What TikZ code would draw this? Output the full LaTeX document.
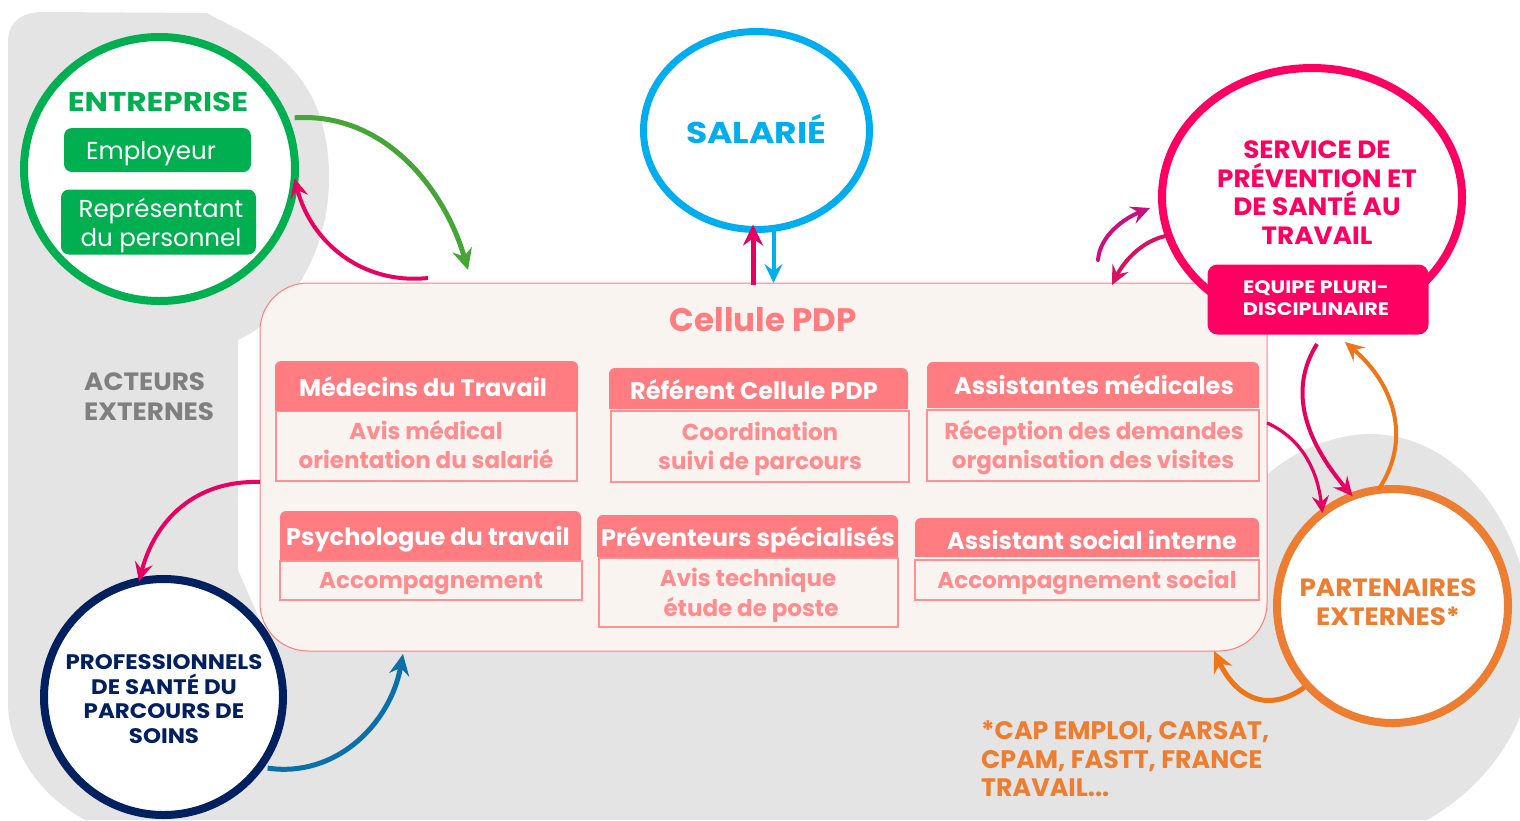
\documentclass[tikz,border=0pt]{standalone}
\usepackage{fontspec}
\setmainfont{Poppins}
\newfontfamily\capa[FakeStretch=1.05]{Poppins}
\newfontfamily\capb[FakeStretch=1.09]{Poppins}
\newfontfamily\capc[FakeStretch=1.15]{Poppins}
\usetikzlibrary{shapes.geometric,arrows.meta,calc}
\definecolor{gbg}{HTML}{E4E4E4}
\definecolor{cgreen}{HTML}{00B050}
\definecolor{cblue}{HTML}{00AEEF}
\definecolor{cpink}{HTML}{FF0062}
\definecolor{cnavy}{HTML}{002060}
\definecolor{corange}{HTML}{ED7D31}
\definecolor{ccoral}{HTML}{FF7C80}
\definecolor{cbodytxt}{HTML}{FF8C8F}
\definecolor{ccream}{HTML}{F9F4F0}
\definecolor{agreen}{HTML}{46A536}
\definecolor{apink}{HTML}{E6005F}
\definecolor{amag}{HTML}{C9107F}
\definecolor{adark}{HTML}{D6125F}
\definecolor{aorange}{HTML}{EE7518}
\definecolor{ablue}{HTML}{0B6FA8}
\definecolor{agrey}{HTML}{7F7F7F}
\newcommand{\fs}[1]{\fontsize{#1}{#1}\selectfont}
\tikzset{
  actor/.style={ellipse,draw,line width=8pt,fill=white,inner sep=0pt,outer sep=0pt},
  headbox/.style={fill=ccoral,draw=none,inner sep=0pt,rounded corners=6pt},
  bodybox/.style={draw=ccoral!85,line width=1.3pt,fill=ccream,inner sep=0pt},
  greenbox/.style={fill=cgreen,rounded corners=8pt,inner sep=0pt},
  txt/.style={inner sep=0pt,anchor=base},
  headtxt/.style={txt,text=white,font=\fs{24}\bfseries},
  bodytxt/.style={txt,text=cbodytxt,font=\fs{23}\bfseries},
  greentxt/.style={txt,text=white,font=\fs{24.5}},
  pinktxt/.style={txt,text=cpink,font=\capa\fs{25}\bfseries},
  navytxt/.style={txt,text=cnavy,font=\capb\fs{21}\bfseries},
  orangetxt/.style={txt,text=corange,font=\capa\fs{25}\bfseries},
  notetxt/.style={txt,anchor=base west,text=corange,font=\fs{25.3}\bfseries},
  equipetxt/.style={txt,text=white,font=\capc\fs{18}\bfseries},
  greytxt/.style={txt,anchor=base west,text=agrey,font=\capa\fs{25}\bfseries},
  link/.style={line width=5pt,-{Stealth[length=21pt,width=20pt,inset=7pt]}},
  mid link/.style={line width=4pt,-{Stealth[length=19pt,width=18pt,inset=7pt]}},
  thin link/.style={line width=3.2pt,-{Stealth[length=17pt,width=17pt,inset=6pt]}},
}
\begin{document}
\begin{tikzpicture}[x=1pt,y=-1pt]
\useasboundingbox (0,0) rectangle (1520,820);
% grey background
\begin{scope}
\clip (0,0) rectangle (1520,820);
\fill[gbg] (8,42) .. controls (8,22) and (22,12) .. (42,12) -- (207,13)
  .. controls (250,38) and (329,60) .. (329,178)
  .. controls (329,260) and (282,320) .. (238,340)
  -- (238,570) -- (262,625) -- (300,650) -- (1250,640) -- (1267,475)
  .. controls (1295,450) and (1335,434) .. (1370,434)
  .. controls (1450,434) and (1525,510) .. (1535,640)
  .. controls (1535,730) and (1480,790) .. (1427,820)
  -- (85,820) .. controls (30,790) and (8,740) .. (8,703) -- cycle;
\end{scope}
% main cell
\node[draw=ccoral,line width=1pt,fill=ccream,rounded corners=48pt,minimum width=1007pt,minimum height=368pt,inner sep=0pt,outer sep=0pt] (cel) at (763.5,467) {};
\node[txt,text=ccoral,font=\fs{32.5}\bfseries] (celt) at (763,331) {Cellule PDP};
% inner boxes
\node[bodybox,minimum width=301pt,minimum height=70pt] (b1) at (426.5,446) {};
\node[headbox,minimum width=303pt,minimum height=50pt] (h1) at (426.5,386) {};
\node[bodybox,minimum width=298pt,minimum height=71pt] (b2) at (760,446.5) {};
\node[headbox,minimum width=299pt,minimum height=41pt] (h2) at (758.5,388.5) {};
\node[bodybox,minimum width=332pt,minimum height=71pt] (b3) at (1093,445.5) {};
\node[headbox,minimum width=332pt,minimum height=46pt] (h3) at (1093,385) {};
\node[bodybox,minimum width=302pt,minimum height=39pt] (b4) at (431,580.5) {};
\node[headbox,minimum width=301pt,minimum height=49pt] (h4) at (430.5,535.5) {};
\node[bodybox,minimum width=299pt,minimum height=69pt] (b5) at (748.5,592.5) {};
\node[headbox,minimum width=301pt,minimum height=42pt] (h5) at (747.5,536) {};
\node[bodybox,minimum width=344pt,minimum height=40pt] (b6) at (1087,580) {};
\node[headbox,minimum width=344pt,minimum height=39pt] (h6) at (1087,537.5) {};
\foreach \h in {h1,h2,h3,h4,h5,h6} \fill[ccoral] (\h.west) rectangle (\h.south east);
\node[headtxt] (h1t) at (423,396) {Médecins du Travail};
\node[headtxt] (h2t) at (754,399) {Référent Cellule PDP};
\node[headtxt] (h3t) at (1094,394) {Assistantes médicales};
\node[headtxt] (h4t) at (428,545) {Psychologue du travail};
\node[headtxt] (h5t) at (748,546) {Préventeurs spécialisés};
\node[headtxt] (h6t) at (1092,549) {Assistant social interne};
\node[bodytxt] (t1a) at (426,439) {Avis médical};
\node[bodytxt] (t1b) at (426,468) {orientation du salarié};
\node[bodytxt] (t2a) at (760,440) {Coordination};
\node[bodytxt] (t2b) at (760,469) {suivi de parcours};
\node[bodytxt] (t3a) at (1094,439) {Réception des demandes};
\node[bodytxt] (t3b) at (1093,468) {organisation des visites};
\node[bodytxt] (t4a) at (431,588) {Accompagnement};
\node[bodytxt] (t5a) at (748,586) {Avis technique};
\node[bodytxt] (t5b) at (751,616) {étude de poste};
\node[bodytxt] (t6a) at (1087,588) {Accompagnement social};
% actors
\node[actor,draw=cgreen,minimum width=271pt,minimum height=264pt] (ent) at (159.5,169) {};
\node[actor,draw=cblue,line width=7pt,minimum width=226pt,minimum height=198pt] (sal) at (756.5,130.5) {};
\node[actor,draw=cpink,minimum width=300pt,minimum height=258pt] (spst) at (1312,197) {};
\node[actor,draw=cnavy,minimum width=239pt,minimum height=236pt] (pro) at (163.5,697) {};
\node[actor,draw=corange,minimum width=231pt,minimum height=234pt] (par) at (1392.5,606) {};
% actor contents
\node[txt,text=cgreen,font=\capc\fs{27}\bfseries] (entt) at (158,111.5) {ENTREPRISE};
\node[greenbox,minimum width=187pt,minimum height=44pt] (emp) at (157.5,150) {};
\node[greentxt] (empt) at (151,159) {Employeur};
\node[greenbox,minimum width=195pt,minimum height=65pt] (rep) at (158.5,222) {};
\node[greentxt] (rep1) at (161,217) {Représentant};
\node[greentxt] (rep2) at (161,246) {du personnel};
\node[txt,text=cblue,font=\capc\fs{30}\bfseries] (salt) at (756,143) {SALARIÉ};
\node[pinktxt] (s1) at (1317,158) {SERVICE DE};
\node[pinktxt] (s2) at (1317,187) {PRÉVENTION ET};
\node[pinktxt] (s3) at (1317,215) {DE SANTÉ AU};
\node[pinktxt] (s4) at (1317,244) {TRAVAIL};
\node[fill=cpink,rounded corners=10pt,minimum width=221pt,minimum height=70pt,inner sep=0pt] (eq) at (1318,299.5) {};
\node[equipetxt] (eq1) at (1316,293.5) {EQUIPE PLURI-};
\node[equipetxt] (eq2) at (1316,315.5) {DISCIPLINAIRE};
\node[navytxt] (p1) at (164,669.5) {PROFESSIONNELS};
\node[navytxt] (p2) at (164,694.5) {DE SANTÉ DU};
\node[navytxt] (p3) at (164,718.5) {PARCOURS DE};
\node[navytxt] (p4) at (164,743.5) {SOINS};
\node[orangetxt] (pa1) at (1388,596) {PARTENAIRES};
\node[orangetxt] (pa2) at (1388,625) {EXTERNES*};
\node[notetxt] (n1) at (981,739) {*CAP EMPLOI, CARSAT,};
\node[notetxt] (n2) at (981,768) {CPAM, FASTT, FRANCE};
\node[notetxt] (n3) at (981,796) {TRAVAIL...};
\node[greytxt] (ae1) at (84,390) {ACTEURS};
\node[greytxt] (ae2) at (84,420) {EXTERNES};
% free ends
\coordinate (g1) at (468,270);
\coordinate (r1) at (428,278);
\coordinate (m1) at (1098,260);
\coordinate (m2) at (1150,208);
\coordinate (q1) at (1317,344);
\coordinate (q2) at (1345,342);
\coordinate (o1) at (1214,651);
\coordinate (b1e) at (403,654);
\coordinate (d1) at (1112,285);
% connectors
\draw[link,agreen,shorten <=10pt] (ent.22) .. controls (385,112) and (445,190) .. (g1);
\draw[mid link,apink] (r1) .. controls (360,285) and (310,240) .. (ent.-4);
\draw[link,apink] ($(cel.north)+(-10.5,2)$) -- ($(sal.south)+(-3.5,-5)$);
\draw[mid link,cblue] ($(sal.south)+(17,0)$) -- ($(cel.north)+(10,0)$);
\draw[mid link,amag,line cap=round] (m1) .. controls (1100,235) and (1125,218) .. (m2);
\draw[mid link,adark] (spst.195) .. controls (1140,240) and (1122,265) .. (d1);
\draw[mid link,apink] (q1) .. controls (1288,390) and (1305,440) .. (par.110);
\draw[mid link,aorange] (par.97) .. controls (1412,440) and (1395,385) .. (q2);
\draw[thin link,apink] (cel.5) .. controls (1305,440) and (1318,475) .. (par.127);
\draw[link,aorange,shorten <=4pt] (par.-137) .. controls (1265,715) and (1235,695) .. (o1);
\draw[mid link,apink] (cel.west |- 0,482) .. controls (195,480) and (155,520) .. (pro.102);
\draw[link,ablue,shorten <=8pt] (pro.-36) .. controls (335,778) and (390,725) .. (b1e);
\end{tikzpicture}
\end{document}
